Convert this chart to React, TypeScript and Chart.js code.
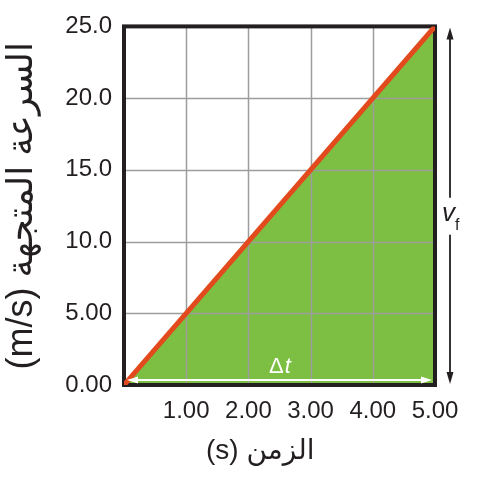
import React, { useEffect, useRef } from "react";
import { Chart, registerables } from "chart.js";

Chart.register(...registerables);

// ---- data ----
const timeValues = [0, 5];
const velocityValues = [0, 25];
const xTickLabels = ["", "1.00", "2.00", "3.00", "4.00", "5.00"];
const yTickLabels = ["0.00", "5.00", "10.0", "15.0", "20.0", "25.0"];
const xGridValues = [1, 2, 3, 4];
const yGridValues = [5, 10, 15, 20];
const xTitle = "(s) الزمن";
const yTitle = "(m/s) السرعة المتجهة";
const deltaLabel = "Δ";
const deltaVar = "t";
const vLabel = "v";
const vSub = "f";

const GREEN = "#7dbf42";
const RED = "#e24a1e";
const GRID = "#9d9d9d";
const INK = "#231f20";

function arrowHead(ctx: CanvasRenderingContext2D, x: number, y: number, dx: number, dy: number, len: number, half: number) {
  const bx = x - dx * len;
  const by = y - dy * len;
  const px = -dy;
  const py = dx;
  ctx.beginPath();
  ctx.moveTo(x, y);
  ctx.lineTo(bx + px * half, by + py * half);
  ctx.lineTo(bx - px * half, by - py * half);
  ctx.closePath();
  ctx.fill();
}

const overlay = {
  id: "overlay",
  afterDatasetDraw(chart: any, args: any) {
    if (args.index !== 1) return;
    const { ctx, chartArea: a, scales } = chart;
    const x = scales.x;
    const y = scales.y;
    ctx.save();
    ctx.strokeStyle = GRID;
    ctx.lineWidth = 1.5;
    for (const v of xGridValues) {
      const px = Math.round(x.getPixelForValue(v)) + 0.5;
      ctx.beginPath();
      ctx.moveTo(px, a.top);
      ctx.lineTo(px, a.bottom);
      ctx.stroke();
    }
    for (const v of yGridValues) {
      const py = Math.round(y.getPixelForValue(v)) + 0.5;
      ctx.beginPath();
      ctx.moveTo(a.left, py);
      ctx.lineTo(a.right, py);
      ctx.stroke();
    }
    ctx.strokeStyle = INK;
    ctx.lineWidth = 4;
    ctx.strokeRect(a.left, a.top, a.right - a.left, a.bottom - a.top);
    ctx.restore();
  },
  afterDatasetsDraw(chart: any) {
    const { ctx, chartArea: a, scales } = chart;
    const x = scales.x;
    const y = scales.y;
    ctx.save();
    // Δt double arrow (white)
    const ay = y.getPixelForValue(0) - 5;
    const x0 = x.getPixelForValue(0) + 3;
    const x1 = x.getPixelForValue(5) - 3;
    ctx.strokeStyle = "#ffffff";
    ctx.fillStyle = "#ffffff";
    ctx.lineWidth = 2.2;
    ctx.beginPath();
    ctx.moveTo(x0 + 8, ay);
    ctx.lineTo(x1 - 8, ay);
    ctx.stroke();
    arrowHead(ctx, x0, ay, -1, 0, 11, 3.5);
    arrowHead(ctx, x1, ay, 1, 0, 11, 3.5);
    // Δt label
    const cx = x.getPixelForValue(2.5);
    ctx.textBaseline = "alphabetic";
    ctx.font = "22px 'Liberation Sans', Arial, sans-serif";
    const wD = ctx.measureText(deltaLabel).width;
    ctx.font = "italic 22px 'Liberation Sans', Arial, sans-serif";
    const wT = ctx.measureText(deltaVar).width;
    const startX = cx - (wD + wT) / 2;
    ctx.textAlign = "left";
    ctx.font = "22px 'Liberation Sans', Arial, sans-serif";
    ctx.fillText(deltaLabel, startX, ay - 7);
    ctx.font = "italic 22px 'Liberation Sans', Arial, sans-serif";
    ctx.fillText(deltaVar, startX + wD + 1, ay - 7);

    // v_f double arrow (black)
    const vx = a.right + 15;
    const top = a.top + 1;
    const bot = a.bottom - 1;
    const mid = (a.top + a.bottom) / 2 + 10;
    ctx.strokeStyle = INK;
    ctx.fillStyle = INK;
    ctx.lineWidth = 1.8;
    ctx.beginPath();
    ctx.moveTo(vx, top + 8);
    ctx.lineTo(vx, mid - 18);
    ctx.moveTo(vx, mid + 19);
    ctx.lineTo(vx, bot - 8);
    ctx.stroke();
    arrowHead(ctx, vx, top, 0, -1, 12, 3.5);
    arrowHead(ctx, vx, bot, 0, 1, 12, 3.5);
    ctx.font = "italic 26px 'Liberation Sans', Arial, sans-serif";
    ctx.textAlign = "left";
    ctx.fillText(vLabel, vx - 8, mid + 5);
    ctx.font = "16px 'Liberation Sans', Arial, sans-serif";
    ctx.fillText(vSub, vx + 5, mid + 14);

    // axis titles
    ctx.fillStyle = INK;
    ctx.font = "28px 'Liberation Sans', 'DejaVu Sans', sans-serif";
    ctx.textAlign = "center";
    ctx.textBaseline = "middle";
    ctx.fillText(xTitle, x.getPixelForValue(2.19), 451);
    ctx.save();
    ctx.font = "36px 'Liberation Sans', 'DejaVu Sans', sans-serif";
    ctx.translate(22, (a.top + a.bottom) / 2);
    ctx.rotate(-Math.PI / 2);
    ctx.fillText(yTitle, 0, 0);
    ctx.restore();
    ctx.restore();
  },
};

export default function App() {
  const ref = useRef<HTMLCanvasElement | null>(null);
  useEffect(() => {
    if (!ref.current) return;
    const chart = new Chart(ref.current, {
      type: "line",
      data: {
        datasets: [
          {
            data: timeValues.map((t, i) => ({ x: t, y: velocityValues[i] })),
            borderColor: RED,
            borderWidth: 5,
            pointRadius: 0,
            fill: false,
          },
          {
            data: timeValues.map((t, i) => ({ x: t, y: velocityValues[i] })),
            borderWidth: 0,
            borderColor: "rgba(0,0,0,0)",
            backgroundColor: GREEN,
            pointRadius: 0,
            fill: "origin",
          },
        ],
      },
      options: {
        animation: false,
        responsive: false,
        devicePixelRatio: 1,
        layout: { padding: { top: 22, right: 47, left: 0, bottom: 0 } },
        plugins: {
          legend: { display: false },
          tooltip: { enabled: false },
          title: { display: false },
        },
        scales: {
          x: {
            type: "linear",
            min: 0,
            max: 5,
            grid: { display: false, drawTicks: false },
            border: { display: false },
            ticks: {
              stepSize: 1,
              padding: 12,
              color: INK,
              font: { size: 24, family: "'Liberation Sans', Arial, sans-serif" },
              maxRotation: 0,
              autoSkip: false,
              callback: (v: any) => xTickLabels[Math.round(Number(v))] ?? "",
            },
            afterFit: (s: any) => {
              s.height = 103;
            },
          },
          y: {
            type: "linear",
            min: 0,
            max: 25,
            grid: { display: false, drawTicks: false },
            border: { display: false },
            ticks: {
              stepSize: 5,
              padding: 12,
              color: INK,
              font: { size: 24, family: "'Liberation Sans', Arial, sans-serif" },
              callback: (v: any) => yTickLabels[Math.round(Number(v) / 5)] ?? "",
            },
            afterFit: (s: any) => {
              s.width = 124;
            },
          },
        },
      },
      plugins: [overlay],
    } as any);
    return () => chart.destroy();
  }, []);
  return (
    <div style={{ position: "absolute", left: 0, top: 0, width: 482, height: 488, background: "#fff" }}>
      <canvas ref={ref} width={482} height={488} />
    </div>
  );
}
